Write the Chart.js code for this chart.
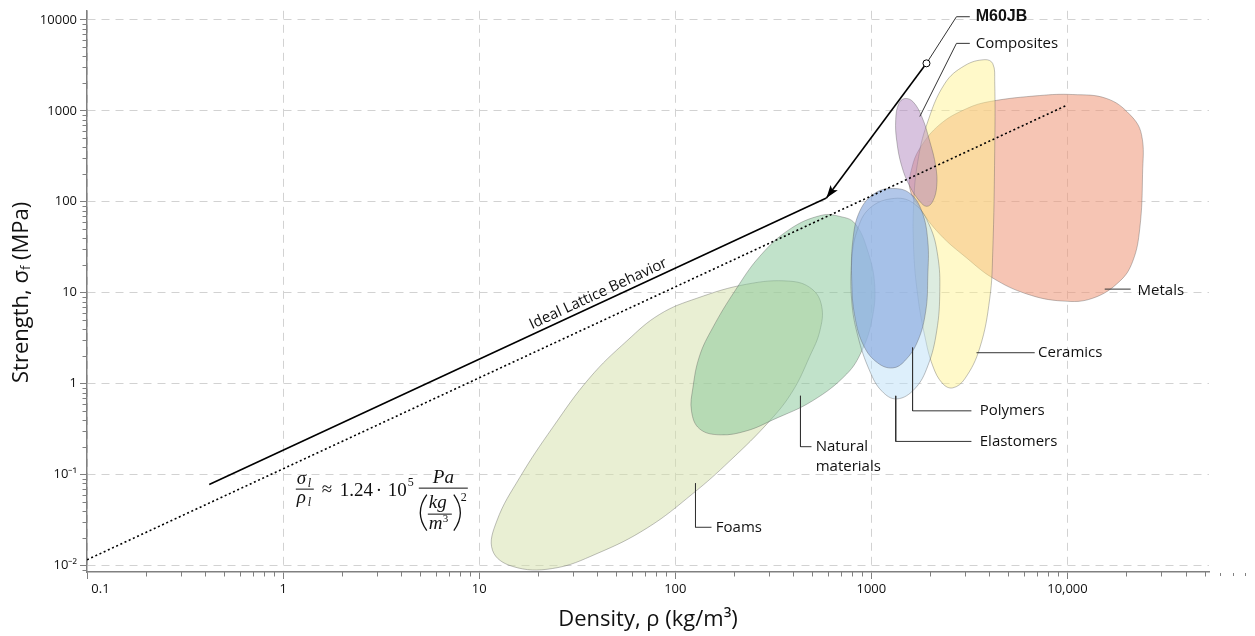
<!DOCTYPE html>
<html>
<head>
<meta charset="utf-8">
<script src="https://cdn.jsdelivr.net/npm/chart.js@4.4.1/dist/chart.umd.min.js"></script>
<style>
  html, body { margin: 0; background: #fff; }
</style>
</head>
<body>
<canvas id="myChart" width="1255" height="636"></canvas>
<script>
// axis ticks
const xTickValues = [0.1, 1, 10, 100, 1000, 10000];
const xTickLabels = ['        0.1', '1', '10', '100', '1000', '10,000'];
const yTickValues = [0.01, 0.1, 1, 10, 100, 1000, 10000];
const yTickLabels = ['10\u207B\u00B2', '10\u207B\u00B9', '1', '10', '100', '1000', '10000'];

// material families: outline points [density kg/m3, strength MPa]
const foams = [[231, 12.4], [384, 13.4], [497, 11.0], [558, 7.1], [546, 3.8], [485, 2.0], [397, 0.83], [303, 0.39],
  [190, 0.142], [123, 0.062], [72, 0.026], [40, 0.0136], [23.7, 0.0093], [14.8, 0.0098], [11.7, 0.0147], [12.3, 0.031],
  [16.1, 0.093], [23.7, 0.33], [36.6, 1.16], [56.6, 2.95], [83.4, 5.8], [129, 8.7]];
const natural = [[557, 71], [690, 69], [823, 58], [959, 28.6], [1041, 11.8], [1004, 4.9], [893, 2.29], [749, 1.28],
  [502, 0.65], [314, 0.40], [232, 0.304], [169, 0.274], [133, 0.319], [121, 0.50], [123, 0.90], [133, 2.02],
  [155, 4.1], [201, 10.4], [270, 25.2], [384, 50]];
const elastomers = [[1316, 109], [1665, 94], [1986, 54], [2182, 25.2], [2233, 10.4], [2154, 3.8], [1940, 1.57],
  [1665, 0.88], [1348, 0.68], [1130, 0.83], [981, 1.38], [853, 3.35], [794, 8.1], [794, 22.2], [843, 47], [981, 85]];
const polymers = [[1285, 140], [1570, 124], [1807, 79], [1940, 37], [1940, 15.2], [1894, 6.3], [1725, 2.95],
  [1480, 1.78], [1285, 1.49], [1078, 1.69], [915, 2.6], [823, 5.5], [794, 13.4], [804, 37], [873, 79], [1041, 124]];
const ceramics = [[3790, 3650], [4160, 3300], [4256, 2100], [4256, 360], [4160, 28.6], [4017, 8.7], [3571, 2.47],
  [2994, 1.13], [2601, 0.90], [2312, 1.0], [2056, 1.57], [1872, 3.35], [1725, 9.2], [1645, 28.6], [1645, 101],
  [1725, 278], [1917, 707], [2367, 1990], [2994, 3140]];
const composites = [[1480, 1364], [1627, 1265], [1807, 865], [1986, 460], [2130, 245], [2154, 148], [2056, 101],
  [1917, 89], [1766, 101], [1570, 148], [1429, 245], [1348, 460], [1331, 802], [1380, 1202]];
const metals = [[4017, 1265], [7227, 1472], [10640, 1509], [15850, 1364], [20800, 910], [23850, 550], [24150, 200],
  [23380, 51], [21530, 22.2], [18490, 13.4], [13460, 8.7], [9460, 8.1], [6196, 9.7], [4160, 14.5], [3069, 24],
  [2233, 44], [1766, 85], [1570, 140], [1607, 233], [1766, 386], [2233, 707], [3069, 1060]];

// lines
const idealDotted = [[0.1, 0.0116], [10000, 1160]];
const latticeSolid = [[0.42, 0.078], [590, 110]];
const m60jbArrow = [[1910, 3325], [590, 110]];

// label leaders
const m60jbLeader = [[1910, 3325], [2716, 10820], [3177, 10820]];
const compositesLeader = [[1766, 865], [2716, 5512], [3177, 5512]];
const metalsLeader = [[15490, 10.96], [21000, 10.96]];
const ceramicsLeader = [[3436, 2.19], [6808, 2.19]];
const polymersLeader = [[1622, 2.49], [1622, 0.503], [3238, 0.503]];
const elastomersLeader = [[1331, 0.735], [1331, 0.232], [3238, 0.232]];
const naturalLeader = [[435, 0.735], [435, 0.203], [495, 0.203]];
const foamsLeader = [[126.8, 0.0802], [126.8, 0.0264], [153, 0.0264]];

const labels = [
  { text: 'M60JB', x: 3406, y: 10820, bold: true },
  { text: 'Composites', x: 3406, y: 5512 },
  { text: 'Metals', x: 22790, y: 10.5 },
  { text: 'Ceramics', x: 7080, y: 2.19 },
  { text: 'Polymers', x: 3571, y: 0.503 },
  { text: 'Elastomers', x: 3571, y: 0.232 },
  { text: 'Natural', x: 520, y: 0.203 },
  { text: 'materials', x: 520, y: 0.122 },
  { text: 'Foams', x: 161, y: 0.0264 }
];
const latticeAnchor = [42.4, 7.87];
const formulaAnchor = [1.175, 0.0702];

const xMin = 0.1, xMax = 52700, yMin = 0.00851, yMax = 12570;
const axisGray = '#808080';
const ink = '#111';

function blob(label, data, color) {
  return { label, data, blob: true, fill: 'shape', spanGaps: true, tension: 0.4,
    backgroundColor: color, borderColor: 'rgba(80,80,80,0.45)', borderWidth: 0.8, pointRadius: 0 };
}
function leader(data) {
  return { data, borderColor: '#333', borderWidth: 1, pointRadius: 0, fill: false };
}

const overlay = {
  id: 'overlay',
  afterDatasetUpdate(chart, args) {
    const ds = chart.data.datasets[args.index];
    if (ds.blob && args.meta.dataset) {
      args.meta.dataset._loop = true;
      args.meta.dataset._fullLoop = true;
    }
  },
  afterDraw(chart) {
    const ctx = chart.ctx;
    const xs = chart.scales.x, ys = chart.scales.y;
    const area = chart.chartArea;
    const px = v => xs.getPixelForValue(v), py = v => ys.getPixelForValue(v);
    ctx.save();

    // minor ticks
    ctx.strokeStyle = axisGray;
    ctx.lineWidth = 1;
    ctx.beginPath();
    for (const d of [0.1, 1, 10, 100, 1000, 10000]) {
      for (let m = 2; m <= 9; m++) {
        const v = d * m;
        if (v > xMax) continue;
        const x = Math.round(px(v)) + 0.5;
        ctx.moveTo(x, area.bottom); ctx.lineTo(x, area.bottom + 4.5);
      }
    }
    for (const d of [0.001, 0.01, 0.1, 1, 10, 100, 1000]) {
      for (let m = 2; m <= 9; m++) {
        const v = d * m;
        if (v < yMin || v > yMax) continue;
        const y = Math.round(py(v)) + 0.5;
        ctx.moveTo(area.left, y); ctx.lineTo(area.left - 4.5, y);
      }
    }
    for (const v of [60000, 70000, 80000, 90000]) {
      const x = Math.round(px(v)) + 0.5;
      ctx.moveTo(x, area.bottom + 1); ctx.lineTo(x, area.bottom + 4);
    }
    ctx.stroke();

    // arrowhead on the M60JB arrow
    const a0 = { x: px(m60jbArrow[0][0]), y: py(m60jbArrow[0][1]) };
    const a1 = { x: px(m60jbArrow[1][0]), y: py(m60jbArrow[1][1]) };
    const len = Math.hypot(a1.x - a0.x, a1.y - a0.y);
    const ux = (a1.x - a0.x) / len, uy = (a1.y - a0.y) / len;
    ctx.fillStyle = '#000';
    ctx.beginPath();
    ctx.moveTo(a1.x, a1.y);
    ctx.lineTo(a1.x - 13 * ux - 4.5 * uy, a1.y - 13 * uy + 4.5 * ux);
    ctx.lineTo(a1.x - 10 * ux, a1.y - 10 * uy);
    ctx.lineTo(a1.x - 13 * ux + 4.5 * uy, a1.y - 13 * uy - 4.5 * ux);
    ctx.closePath();
    ctx.fill();

    // family labels
    ctx.fillStyle = ink;
    ctx.textAlign = 'left';
    ctx.textBaseline = 'middle';
    for (const l of labels) {
      ctx.font = l.bold ? "bold 16px 'Liberation Sans'" : "15px 'Open Sans'";
      ctx.fillText(l.text, px(l.x), py(l.y));
    }

    // rotated line label
    const s0 = { x: px(latticeSolid[0][0]), y: py(latticeSolid[0][1]) };
    const s1 = { x: px(latticeSolid[1][0]), y: py(latticeSolid[1][1]) };
    const ang = Math.atan2(s1.y - s0.y, s1.x - s0.x);
    ctx.save();
    ctx.translate(px(latticeAnchor[0]), py(latticeAnchor[1]));
    ctx.rotate(ang);
    ctx.font = "15px 'Open Sans'";
    ctx.textAlign = 'center';
    ctx.textBaseline = 'alphabetic';
    ctx.fillText('Ideal Lattice Behavior', 0, -5);
    ctx.restore();

    // formula
    drawFormula(ctx, px(formulaAnchor[0]), py(formulaAnchor[1]));

    // axis titles
    ctx.fillStyle = ink;
    ctx.textAlign = 'center';
    ctx.textBaseline = 'alphabetic';
    ctx.font = "22px 'Open Sans'";
    ctx.fillText('Density, \u03C1 (kg/m\u00B3)', (area.left + area.right) / 2, 626);

    ctx.save();
    ctx.translate(27.5, (area.top + area.bottom) / 2 + 1);
    ctx.rotate(-Math.PI / 2);
    ctx.textAlign = 'left';
    const big = "22px 'Open Sans'", small = "13px 'Open Sans'";
    ctx.font = big;
    const w1 = ctx.measureText('Strength, \u03C3').width;
    const w3 = ctx.measureText(' (MPa)').width;
    ctx.font = small;
    const w2 = ctx.measureText('f').width;
    let sx = -(w1 + w2 + w3) / 2;
    ctx.font = big; ctx.fillText('Strength, \u03C3', sx, 0); sx += w1;
    ctx.font = small; ctx.fillText('f', sx, 2); sx += w2;
    ctx.font = big; ctx.fillText(' (MPa)', sx, 0);
    ctx.restore();

    ctx.restore();
  }
};

function drawFormula(ctx, ax, ay) {
  const it = s => `italic ${s}px 'Liberation Serif'`;
  const rm = s => `${s}px 'Liberation Serif'`;
  ctx.save();
  ctx.fillStyle = ink;
  ctx.strokeStyle = ink;
  ctx.lineWidth = 1;
  ctx.textAlign = 'left';
  ctx.textBaseline = 'alphabetic';
  const t = (str, f, x, y) => { ctx.font = f; ctx.fillText(str, ax + x, ay + y); };
  const bar = (x1, x2, y) => {
    ctx.beginPath(); ctx.moveTo(ax + x1, ay + y + 0.5); ctx.lineTo(ax + x2, ay + y + 0.5); ctx.stroke();
  };
  const paren = (x, dir) => {
    ctx.beginPath();
    ctx.moveTo(ax + x, ay + 6);
    ctx.quadraticCurveTo(ax + x - dir * 13, ay + 24, ax + x, ay + 42);
    ctx.lineWidth = 1.3;
    ctx.stroke();
    ctx.lineWidth = 1;
  };
  t('\u03C3', it(19), 0, -5);
  t('l', it(12), 11, -2);
  bar(-1, 17, 0);
  t('\u03C1', it(19), 0, 14);
  t('l', it(12), 11, 17);
  t('\u2248', rm(19), 25, 6);
  t('1.24', rm(19), 43, 7);
  t('\u00B7', rm(19), 79, 7);
  t('10', rm(19), 91, 7);
  t('5', rm(12), 111, -3);
  t('Pa', it(19), 136, -6);
  bar(122, 171, -1);
  paren(130, 1);
  t('kg', it(19), 132, 19);
  bar(131, 155, 25);
  t('m', it(19), 132, 40);
  t('3', rm(11), 146, 33);
  paren(157, -1);
  t('2', rm(12), 164, 12);
  ctx.restore();
}

const ctx = document.getElementById('myChart');

new Chart(ctx, {
  type: 'line',
  data: {
    datasets: [
      { data: m60jbArrow, borderColor: '#000', borderWidth: 1.6, fill: false,
        pointRadius: [3.5, 0], pointBackgroundColor: '#fff', pointBorderColor: '#000', pointBorderWidth: 1 },
      { data: latticeSolid, borderColor: '#000', borderWidth: 1.6, pointRadius: 0, fill: false },
      { data: idealDotted, borderColor: '#000', borderWidth: 1.6, borderDash: [2, 2.6], pointRadius: 0, fill: false },
      leader(m60jbLeader),
      leader(compositesLeader),
      leader(metalsLeader),
      leader(ceramicsLeader),
      leader(polymersLeader),
      leader(elastomersLeader),
      leader(naturalLeader),
      leader(foamsLeader),
      blob('Composites', composites, 'rgba(178,135,192,0.5)'),
      blob('Polymers', polymers, 'rgba(135,168,220,0.64)'),
      blob('Elastomers', elastomers, 'rgba(188,224,247,0.5)'),
      blob('Ceramics', ceramics, 'rgba(255,242,140,0.47)'),
      blob('Metals', metals, 'rgba(238,150,118,0.55)'),
      blob('Natural materials', natural, 'rgba(131,197,149,0.5)'),
      blob('Foams', foams, 'rgba(211,223,167,0.5)')
    ]
  },
  options: {
    responsive: false,
    animation: false,
    layout: { padding: { top: 9, right: 46, bottom: 0, left: 0 } },
    plugins: {
      legend: { display: false },
      tooltip: { enabled: false }
    },
    scales: {
      x: {
        type: 'logarithmic',
        min: xMin,
        max: xMax,
        afterBuildTicks: axis => { axis.ticks = xTickValues.map(v => ({ value: v })); },
        afterFit: axis => { axis.height = 64; },
        ticks: {
          autoSkip: false, maxRotation: 0, padding: 2,
          color: ink, font: { family: "'Open Sans'", size: 13 },
          callback: (v, i) => xTickLabels[i]
        },
        grid: { color: '#d2d2d2', lineWidth: 1, tickLength: 7, tickColor: axisGray },
        border: { color: axisGray, width: 1.5, dash: [8, 6] }
      },
      y: {
        type: 'logarithmic',
        min: yMin,
        max: yMax,
        afterBuildTicks: axis => { axis.ticks = yTickValues.map(v => ({ value: v })); },
        afterFit: axis => { axis.width = 87; },
        ticks: {
          autoSkip: false, padding: 3,
          color: ink, font: { family: "'Open Sans'", size: 13 },
          callback: (v, i) => yTickLabels[i]
        },
        grid: { color: '#d2d2d2', lineWidth: 1, tickLength: 7, tickColor: axisGray },
        border: { color: axisGray, width: 1.5, dash: [8, 6] }
      }
    }
  },
  plugins: [overlay]
});
</script>
</body>
</html>
